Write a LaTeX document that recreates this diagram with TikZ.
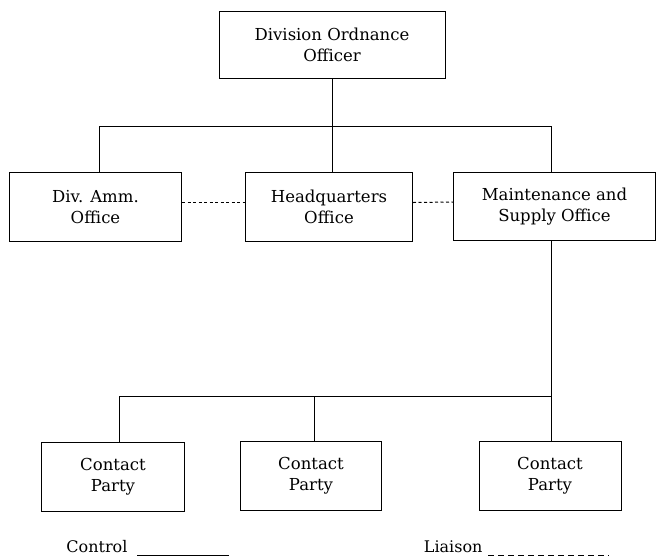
\documentclass[tikz,border=0pt]{standalone}
\usepackage{fontspec}
\setmainfont{DejaVu Serif}
\usepackage{tikz}
\usetikzlibrary{calc}

\begin{document}
\begin{tikzpicture}[x=1pt,y=-1pt,
      office/.style={draw,line width=1pt,align=center,inner sep=0pt,
        font=\fontsize{16.5}{21}\selectfont},
      control/.style={line width=1pt},
      liaison/.style={line width=1pt,dash pattern=on 3pt off 2.5pt}]
      \useasboundingbox (0,0) rectangle (657,558);
      % offices
      \node[office,minimum width=226pt,minimum height=67pt] (doo) at (332,45) {Division Ordnance\\Officer};
      \node[office,minimum width=172pt,minimum height=69pt] (amm) at (95.5,207) {Div. Amm.\\Office};
      \node[office,minimum width=167pt,minimum height=69pt] (hq) at (329,207) {Headquarters\\Office};
      \node[office,minimum width=202pt,minimum height=68pt] (mso) at (554.5,206.5) {Maintenance and\\Supply Office};
      \node[office,minimum width=143pt,minimum height=69pt] (cpa) at (113,476.5) {Contact\\Party};
      \node[office,minimum width=141pt,minimum height=69pt] (cpb) at (311,476) {Contact\\Party};
      \node[office,minimum width=142pt,minimum height=69pt] (cpc) at (550,476) {Contact\\Party};
      % control lines
      \coordinate (tl) at (99,126);
      \coordinate (tr) at (551,126);
      \coordinate (bl) at (119,396);
      \coordinate (bm) at (314.5,396);
      \coordinate (br) at (551,396);
      \draw[control] (doo.south) -- (doo.south |- hq.north);
      \draw[control] (tl |- amm.north) -- (tl) -- (tr) -- (tr |- mso.north);
      \draw[control] (br |- mso.south) -- (br) -- (bl) -- (bl |- cpa.north);
      \draw[control] (bm) -- (bm |- cpb.north);
      \draw[control] (br) -- (br |- cpc.north);
      % liaison lines
      \draw[liaison] ([yshift=4.5pt]amm.east) -- ([yshift=4.5pt]hq.west);
      \draw[liaison] ([yshift=4.5pt]hq.east) -- ([yshift=4.5pt]mso.west);
      % legend
      \node[font=\fontsize{16}{18}\selectfont,anchor=base east] (ctl) at (131,552) {Control};
      \node[font=\fontsize{16}{18}\selectfont,anchor=base east] (lia) at (486,552) {Liaison};
      \coordinate (ctlend) at (229,555);
      \coordinate (liaend) at (609,555);
      \draw[control] ([xshift=6pt]ctl.base east |- ctlend) -- (ctlend);
      \draw[liaison,dash pattern=on 6pt off 4pt] ([xshift=2pt]lia.base east |- liaend) -- (liaend);
\end{tikzpicture}
\end{document}
